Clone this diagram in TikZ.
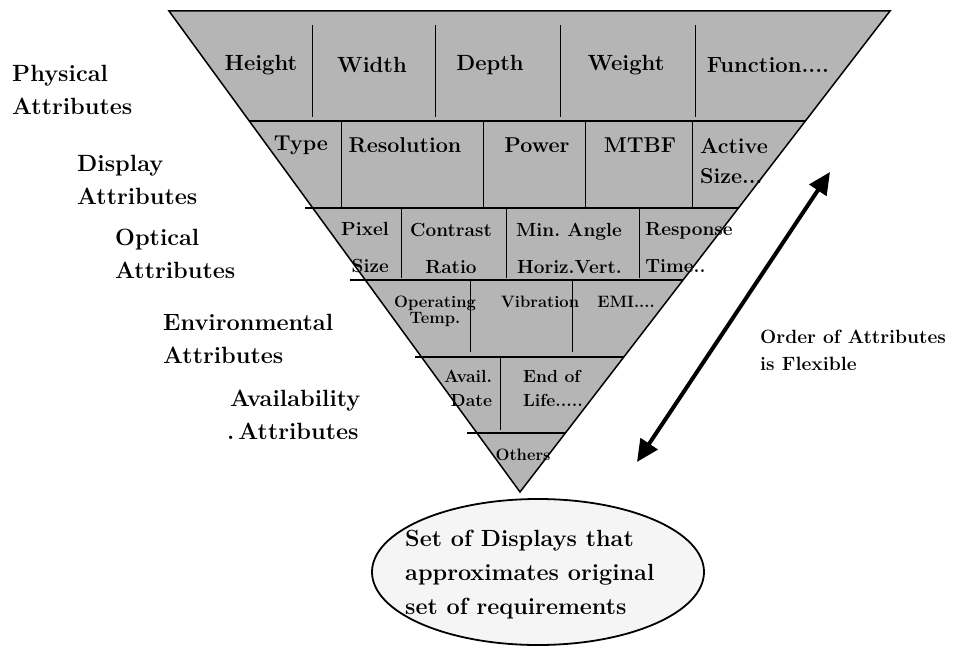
\documentclass[tikz,border=0pt]{standalone}
\usetikzlibrary{arrows.meta,shapes.geometric}
\newcommand{\fsz}[2]{\fontsize{#1}{#2}\selectfont}
\frenchspacing
\tikzset{
  band/.style={line width=1.4pt},
  divider/.style={line width=0.9pt},
  cell/.style={inner sep=0pt,font=\bfseries},
  grouplabel/.style={inner sep=0pt,anchor=west,align=left,font=\bfseries\fsz{23.5}{33}},
}
\begin{document}
\begin{tikzpicture}[x=1pt,y=-1pt]
\useasboundingbox (0,0) rectangle (955,647);
% funnel
\coordinate (tl) at (169,11);
\coordinate (tr) at (890,11);
\coordinate (apex) at (520,492);
\draw[line width=1.5pt,fill=gray!58] (tl) -- (tr) -- (apex) -- cycle;
% bands
\draw[band] (249,121) -- (805,121);
\draw[band] (305,208) -- (739,208);
\draw[band] (350,280) -- (683,280);
\draw[band] (415,357) -- (624,357);
\draw[band] (467,433) -- (565,433);
% dividers
\foreach \x in {312,435,560,695} \draw[divider] (\x,25) -- (\x,117);
\foreach \x in {341,483,585,692} \draw[divider] (\x,121) -- (\x,208);
\foreach \x in {401,506,639} \draw[divider] (\x,208) -- (\x,278);
\foreach \x in {470,572} \draw[divider] (\x,280) -- (\x,352);
\draw[divider] (500,357) -- (500,430);
% row 1
\node[cell,font=\bfseries\fsz{22}{26}] (height) at (261,65) {Height};
\node[cell,font=\bfseries\fsz{22}{26}] (width) at (372,65) {Width};
\node[cell,font=\bfseries\fsz{22}{26}] (depth) at (490,65) {Depth};
\node[cell,font=\bfseries\fsz{22}{26}] (weight) at (626,65) {Weight};
\node[cell,font=\bfseries\fsz{22}{26}] (function) at (768,65) {Function....};
% row 2
\node[cell,font=\bfseries\fsz{21.5}{30}] (type) at (301,145) {Type};
\node[cell,font=\bfseries\fsz{21.5}{30}] (resolution) at (405,145) {Resolution};
\node[cell,font=\bfseries\fsz{21.5}{30}] (power) at (537,145) {Power};
\node[cell,font=\bfseries\fsz{21.5}{30}] (mtbf) at (640,145) {MTBF};
\node[cell,font=\bfseries\fsz{21.5}{30},align=left] (active) at (734,161) {Active\\Size...};
% row 3
\node[cell,font=\bfseries\fsz{19}{37},align=right] (pixel) at (365,248) {Pixel\\Size};
\node[cell,font=\bfseries\fsz{19}{37},align=center] (contrast) at (451,248) {Contrast\\Ratio};
\node[cell,font=\bfseries\fsz{19}{37},align=right] (angle) at (569,248) {Min. Angle\\Horiz.Vert.};
\node[cell,font=\bfseries\fsz{19}{37},align=left] (response) at (689,248) {Response\\Time..};
% row 4
\node[cell,font=\bfseries\fsz{16.5}{16},align=center] (operating) at (435,311) {Operating\\Temp.};
\node[cell,font=\bfseries\fsz{16.5}{16}] (vibration) at (540,302) {Vibration};
\node[cell,font=\bfseries\fsz{16.5}{16}] (emi) at (626,302) {EMI....};
% row 5
\node[cell,font=\bfseries\fsz{17.5}{24},align=right] (avail) at (468,388) {Avail.\\Date};
\node[cell,font=\bfseries\fsz{17.5}{24},align=left] (endlife) at (553,388) {End of\\Life.....};
% row 6
\node[cell,font=\bfseries\fsz{16.5}{20}] (others) at (523,455) {Others};
% group labels
\node[grouplabel] (physical) at (12,90) {Physical\\Attributes};
\node[grouplabel] (display) at (77,180) {Display\\Attributes};
\node[grouplabel] (optical) at (115,254) {Optical\\Attributes};
\node[grouplabel] (environmental) at (163,339) {Environmental\\Attributes};
\node[grouplabel] (availability) at (227,415) {\hspace*{3pt}Availability\\.\,Attributes};
% result
\node[draw,line width=1.8pt,fill=gray!8,ellipse,minimum width=332pt,minimum height=146pt] (result) at (538,572) {};
\node[cell,anchor=west,align=left,font=\bfseries\fsz{23.4}{34}] (resulttext) at (405,575) {Set of Displays that\\approximates original\\set of requirements};
% order
\coordinate (lo) at (637,462);
\coordinate (hi) at (830,172);
\draw[line width=4pt,{Triangle[length=22pt,width=20pt]}-{Triangle[length=22pt,width=20pt]}] (lo) -- (hi);
\node[inner sep=0pt,anchor=west,align=left,font=\bfseries\fsz{19.2}{27}] (order) at (760,350) {Order of Attributes\\is Flexible};
\end{tikzpicture}
\end{document}
